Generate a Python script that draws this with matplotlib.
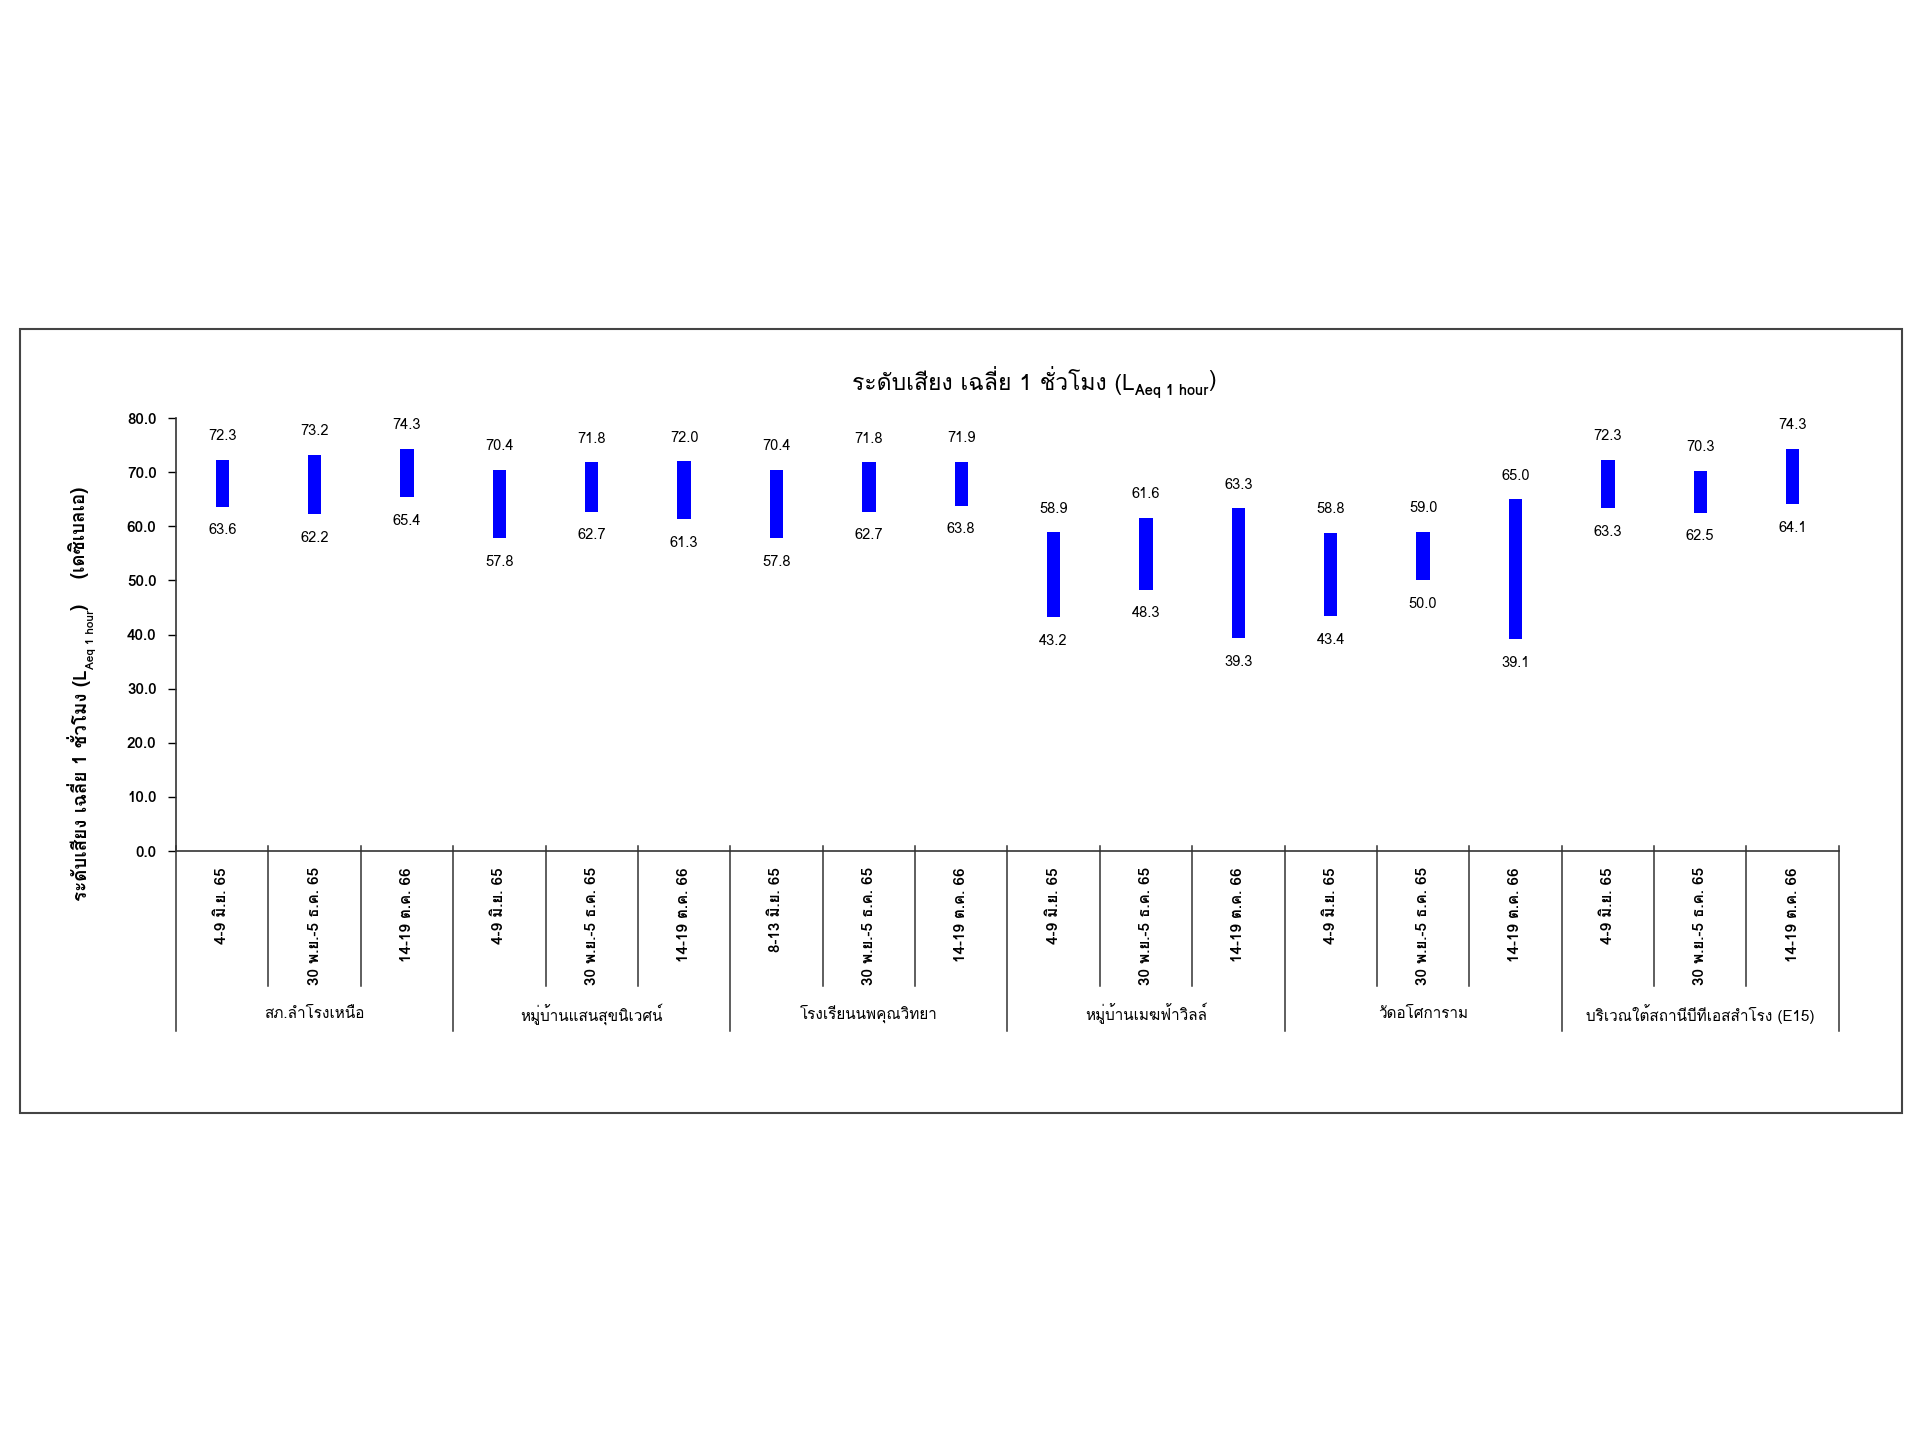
import matplotlib
matplotlib.use("Agg")
import matplotlib.pyplot as plt
import matplotlib.transforms as mtransforms
from matplotlib.patches import Rectangle
import numpy as np

# Loma stacks Thai tone marks without shaping; DejaVu as fallback
plt.rcParams['font.family'] = ['Loma', 'DejaVu Sans']

# data
groups = ["สภ.ลำโรงเหนือ", "หมู่บ้านแสนสุขนิเวศน์", "โรงเรียนนพคุณวิทยา",
          "หมู่บ้านเมฆฟ้าวิลล์", "วัดอโศการาม", "บริเวณใต้สถานีบีทีเอสสำโรง (E15)"]
periods = ["4-9 มิ.ย. 65", "30 พ.ย.-5 ธ.ค. 65", "14-19 ต.ค. 66",
           "4-9 มิ.ย. 65", "30 พ.ย.-5 ธ.ค. 65", "14-19 ต.ค. 66",
           "8-13 มิ.ย. 65", "30 พ.ย.-5 ธ.ค. 65", "14-19 ต.ค. 66",
           "4-9 มิ.ย. 65", "30 พ.ย.-5 ธ.ค. 65", "14-19 ต.ค. 66",
           "4-9 มิ.ย. 65", "30 พ.ย.-5 ธ.ค. 65", "14-19 ต.ค. 66",
           "4-9 มิ.ย. 65", "30 พ.ย.-5 ธ.ค. 65", "14-19 ต.ค. 66"]
leq_max = [72.3, 73.2, 74.3, 70.4, 71.8, 72.0, 70.4, 71.8, 71.9,
           58.9, 61.6, 63.3, 58.8, 59.0, 65.0, 72.3, 70.3, 74.3]
leq_min = [63.6, 62.2, 65.4, 57.8, 62.7, 61.3, 57.8, 62.7, 63.8,
           43.2, 48.3, 39.3, 43.4, 50.0, 39.1, 63.3, 62.5, 64.1]
yticks = [0, 10, 20, 30, 40, 50, 60, 70, 80]

fig = plt.figure(figsize=(19.2, 14.41), dpi=100)
ax = fig.add_axes([0.0917, 0.4094, 0.866, 0.3005])

x = np.arange(len(periods))
hi = np.array(leq_max)
lo = np.array(leq_min)
ax.bar(x, hi - lo, bottom=lo, width=0.145, color='#0000FF', zorder=3)

for xi, h, l in zip(x, hi, lo):
    ax.annotate(f"{h:.1f}", (xi, h), xytext=(0, 17), textcoords='offset points',
                ha='center', va='center', fontsize=10.5)
    ax.annotate(f"{l:.1f}", (xi, l), xytext=(0, -17), textcoords='offset points',
                ha='center', va='center', fontsize=10.5)

ax.set_xlim(-0.5, len(periods) - 0.5)
ax.set_ylim(0, 80)
ax.set_yticks(yticks)
ax.set_yticklabels([f"{v:.1f}" for v in yticks], fontweight='bold', fontsize=11)
ax.tick_params(axis='y', direction='out', length=6, width=1, pad=8)
ax.set_xticks([])
for s in ['top', 'right']:
    ax.spines[s].set_visible(False)
ax.spines['left'].set_color('#333333')
ax.spines['bottom'].set_color('#333333')
ax.spines['left'].set_linewidth(1.2)
ax.spines['bottom'].set_linewidth(1.2)

# category table under the axis
trans = mtransforms.blended_transform_factory(ax.transData, ax.transAxes)
for k in range(len(periods) + 1):
    xb = k - 0.5
    bottom = -0.416 if k % 3 == 0 else -0.312
    ax.plot([xb, xb], [0.012, bottom], transform=trans, color='#333333',
            lw=1.1, clip_on=False)
for xi, lab in zip(x, periods):
    ax.text(xi, -0.037, lab, transform=trans, rotation=90, ha='center', va='top',
            fontsize=11, fontweight='bold')
for g, name in enumerate(groups):
    ax.text(3 * g + 1, -0.376, name, transform=trans, ha='center', va='center',
            fontsize=11)

# title with subscript
t1 = fig.text(0.444, 0.736, "ระดับเสียง เฉลี่ย 1 ชั่วโมง (L", ha='left', va='center',
              fontsize=16.5)
sub = ax.annotate("Aeq 1 hour", xy=(1.0, 0.12), xycoords=t1, ha='left', va='center',
                  fontsize=10.5, fontweight='bold')
ax.annotate(")", xy=(1.0, 0.5), xycoords=(sub, t1), ha='left', va='center', fontsize=16.5)

# y label with subscript, rotated
y1 = fig.text(0.041, 0.375, "ระดับเสียง เฉลี่ย 1 ชั่วโมง (L", rotation=90,
              ha='center', va='bottom', fontsize=13.5, fontweight='bold')
ysub = ax.annotate("Aeq 1 hour", xy=(1.0, 1.0), xycoords=y1, xytext=(4, 0),
                   textcoords='offset points', rotation=90, ha='right', va='bottom',
                   fontsize=8.5, fontweight='bold')
ax.annotate(")    (เดซิเบลเอ)", xy=(0.5, 1.0), xycoords=(y1, ysub), rotation=90,
            ha='center', va='bottom', fontsize=13.5, fontweight='bold')

# outer frame
fig.patches.append(Rectangle((0.0104, 0.2276), 0.9802, 0.5441, transform=fig.transFigure,
                             fill=False, edgecolor='#444444', linewidth=1.5))

fig.savefig("out.png", dpi=100, facecolor='white')
